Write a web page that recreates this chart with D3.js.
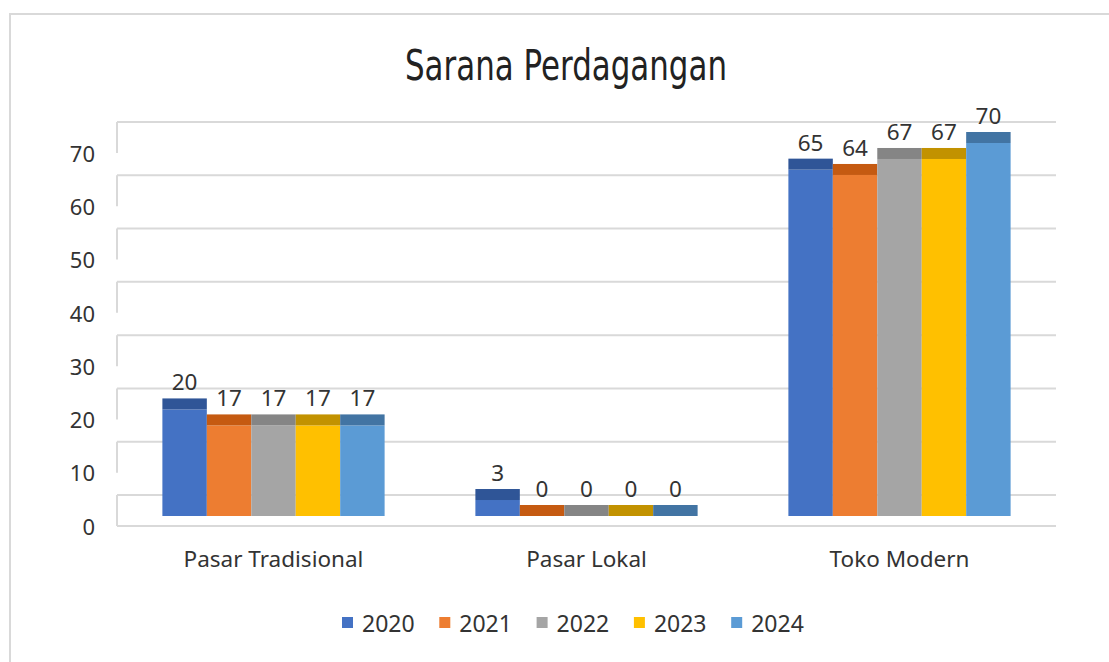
<!DOCTYPE html>
<html>
<head>
<meta charset="utf-8">
<script src="https://cdn.jsdelivr.net/npm/d3@7"></script>
<style>
  html, body { margin: 0; padding: 0; background: #ffffff; }
  svg { display: block; }
</style>
</head>
<body>
<svg id="chart" width="1109" height="662"></svg>
<script>
// ---- data ----
const categories = ["Pasar Tradisional", "Pasar Lokal", "Toko Modern"];
const years = ["2020", "2021", "2022", "2023", "2024"];
const values2020 = [20, 3, 65];
const values2021 = [17, 0, 64];
const values2022 = [17, 0, 67];
const values2023 = [17, 0, 67];
const values2024 = [17, 0, 70];
const yTicks = [0, 10, 20, 30, 40, 50, 60, 70];
const titleText = "Sarana Perdagangan";

const seriesValues = [values2020, values2021, values2022, values2023, values2024];
const frontColors = ["#4472C4", "#ED7D31", "#A5A5A5", "#FFC000", "#5B9BD5"];
const capColors = ["#2F5597", "#C55A11", "#858585", "#C29200", "#4274A3"];

const svg = d3.select("#chart");
const font = "'Noto Sans', 'Open Sans', sans-serif";

// frame
svg.append("rect")
  .attr("x", 10).attr("y", 14).attr("width", 1120).attr("height", 680)
  .attr("fill", "#ffffff").attr("stroke", "#d9d9d9").attr("stroke-width", 2);

// scales
const plotLeft = 117, plotRight = 1056;
const x0 = d3.scaleBand().domain(categories).range([plotLeft, plotRight])
  .paddingInner(0.29).paddingOuter(0.145);
const x1 = d3.scaleBand().domain(years).range([0, x0.bandwidth()]).padding(0);
const y = d3.scaleLinear().domain([0, 70]).range([527, 154]);

// 3D depth offsets (pixels upward from the front plane)
const backDepth = 32, barFront = 11, barBack = 22, floorFront = 1;

// gridlines on back wall + side wall segments
const grid = svg.append("g").attr("stroke", "#d9d9d9").attr("stroke-width", 2).attr("fill", "none");
yTicks.forEach(t => {
  const yb = y(t) - backDepth;
  grid.append("line").attr("x1", plotLeft).attr("x2", plotRight).attr("y1", yb).attr("y2", yb);
  grid.append("line").attr("x1", plotLeft).attr("x2", plotLeft).attr("y1", yb).attr("y2", yb + backDepth - 1);
});
// floor front edge
grid.append("line").attr("x1", plotLeft).attr("x2", plotRight)
  .attr("y1", y(0) - floorFront).attr("y2", y(0) - floorFront);

// y tick labels
svg.append("g").selectAll("text").data(yTicks).join("text")
  .attr("x", 95).attr("y", d => y(d)).attr("dy", "0.35em")
  .attr("text-anchor", "end").attr("font-family", font).attr("font-size", 22)
  .attr("fill", "#333").text(d => d);

// bars
const bars = svg.append("g");
categories.forEach((cat, ci) => {
  years.forEach((yr, si) => {
    const v = seriesValues[si][ci];
    const bx = x0(cat) + x1(yr);
    const bw = x1.bandwidth();
    const frontTop = y(v) - barFront;
    const frontBottom = y(0) - barFront;
    // front face
    bars.append("rect").attr("x", bx).attr("y", frontTop)
      .attr("width", bw).attr("height", frontBottom - frontTop)
      .attr("fill", frontColors[si]);
    // top face (cap)
    const capTop = y(v) - barBack;
    bars.append("rect").attr("x", bx).attr("y", capTop)
      .attr("width", bw).attr("height", frontTop - capTop)
      .attr("fill", capColors[si]);
    // data label
    bars.append("text").attr("x", bx + bw / 2).attr("y", capTop - 8)
      .attr("text-anchor", "middle").attr("font-family", font).attr("font-size", 22.5)
      .attr("fill", "#333").text(v);
  });
});

// category labels
svg.append("g").selectAll("text").data(categories).join("text")
  .attr("x", d => x0(d) + x0.bandwidth() / 2).attr("y", 567)
  .attr("text-anchor", "middle").attr("font-family", font).attr("font-size", 22.5)
  .attr("fill", "#333").text(d => d);

// title
svg.append("text").attr("x", 566).attr("y", 80)
  .attr("text-anchor", "middle").attr("font-family", "'DejaVu Sans', sans-serif")
  .attr("font-size", 43).attr("textLength", 322).attr("lengthAdjust", "spacingAndGlyphs")
  .attr("fill", "#222").text(titleText);

// legend
const legend = svg.append("g");
years.forEach((yr, i) => {
  const lx = 342 + i * 97.3;
  legend.append("rect").attr("x", lx).attr("y", 617).attr("width", 11).attr("height", 11)
    .attr("fill", frontColors[i]);
  legend.append("text").attr("x", lx + 20).attr("y", 632)
    .attr("font-family", font).attr("font-size", 23).attr("fill", "#333").text(yr);
});
</script>
</body>
</html>
